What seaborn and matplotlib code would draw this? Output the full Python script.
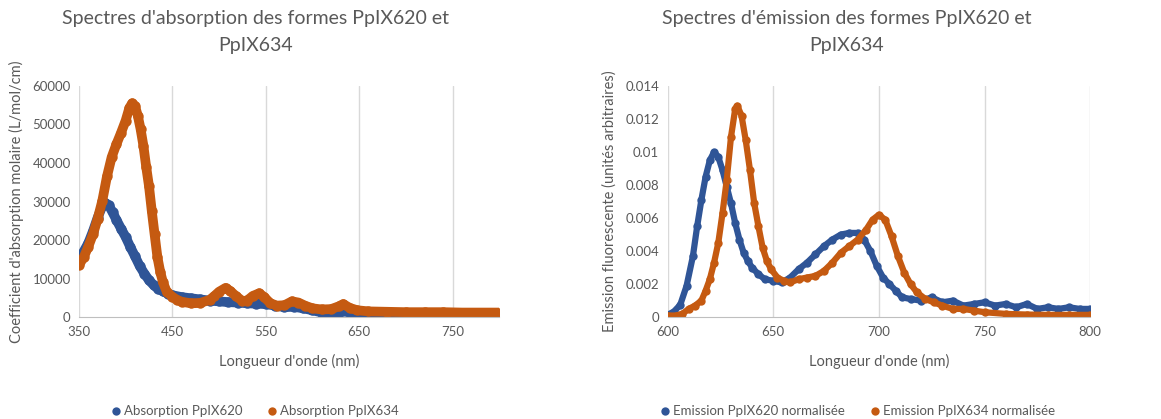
import numpy as np
import pandas as pd
import matplotlib
matplotlib.use("Agg")
import matplotlib.pyplot as plt
from matplotlib.ticker import FuncFormatter
import seaborn as sns

# ===========================
# DATA
# ===========================

abs_wl_620 = [350, 355, 360, 365, 370, 375, 378, 382, 386, 390, 395, 400, 405, 410, 415,
              420, 425, 430, 435, 440, 445, 450, 460, 470, 480, 490, 500, 510, 520, 530,
              540, 550, 560, 570, 580, 590, 600, 610, 620, 630, 635, 640, 650, 660, 680,
              700, 720, 740, 760, 780, 800]
abs_620 = [15200, 17000, 19200, 22300, 25800, 28800, 29700, 29000, 27200, 25300, 23000,
           20800, 18200, 15800, 13300, 11300, 9600, 8300, 7300, 6700, 6100, 5700, 5200,
           4900, 4600, 4300, 4100, 3900, 3800, 3600, 3500, 3400, 3000, 2600, 2700, 2300,
           1800, 1200, 1000, 1400, 1700, 1200, 900, 700, 600, 400, 400, 300, 400, 400, 500]

abs_wl_634 = [350, 355, 360, 365, 370, 375, 380, 385, 390, 395, 400, 404, 407, 410, 413,
              416, 419, 422, 425, 428, 431, 434, 437, 440, 444, 450, 455, 460, 470, 480,
              490, 495, 500, 507, 512, 518, 525, 530, 536, 543, 548, 555, 562, 570, 578,
              585, 592, 600, 610, 620, 628, 633, 640, 648, 660, 680, 700, 720, 740, 760,
              780, 800]
abs_634 = [13500, 15500, 18300, 21500, 25500, 30200, 36500, 41500, 44800, 47800, 51000,
           54300, 55500, 54800, 52300, 48800, 44500, 39000, 34000, 27500, 21500, 15600,
           11800, 9000, 6600, 5300, 4500, 4000, 3600, 3700, 4500, 5500, 6600, 7600, 6800,
           5500, 4200, 4300, 5500, 6200, 5300, 3600, 3000, 3100, 4100, 3800, 3000, 2300,
           2000, 2100, 2800, 3400, 2400, 1800, 1500, 1400, 1300, 1300, 1300, 1200, 1200, 1200]

em_wl_620 = [600, 603, 606, 609, 612, 614, 616, 618, 620, 622, 624, 626, 628, 630, 632,
             634, 636, 638, 640, 643, 646, 650, 654, 658, 662, 666, 670, 674, 678, 682,
             686, 690, 693, 696, 699, 702, 705, 708, 711, 715, 720, 725, 730, 735, 740,
             745, 750, 755, 760, 765, 770, 775, 780, 785, 790, 795, 800]
em_620 = [0.00014, 0.00034, 0.00075, 0.0019, 0.0037, 0.0055, 0.0071, 0.0085, 0.0095, 0.0100,
          0.0097, 0.0089, 0.0079, 0.0069, 0.0057, 0.0047, 0.0039, 0.0034, 0.0030, 0.0026,
          0.0023, 0.0022, 0.0021, 0.0024, 0.0029, 0.0033, 0.0038, 0.0043, 0.0047, 0.0050,
          0.0051, 0.0051, 0.0047, 0.0040, 0.0031, 0.0024, 0.0020, 0.0016, 0.0012, 0.0011,
          0.0010, 0.0012, 0.0009, 0.0010, 0.0007, 0.0008, 0.0009, 0.0007, 0.0008, 0.0006,
          0.0008, 0.0005, 0.0006, 0.0005, 0.0006, 0.0005, 0.0005]

em_wl_634 = [600, 604, 607, 610, 613, 616, 618, 620, 622, 624, 626, 628, 630, 632, 633,
             635, 637, 639, 641, 643, 645, 647, 649, 652, 655, 658, 662, 666, 670, 674,
             678, 682, 686, 690, 694, 697, 700, 703, 706, 709, 712, 715, 718, 722, 726,
             730, 735, 740, 745, 750, 760, 770, 780, 790, 800]
em_634 = [0.0001, 0.0001, 0.0002, 0.0005, 0.0007, 0.0010, 0.0016, 0.0023, 0.0033, 0.0045,
          0.0063, 0.0083, 0.0109, 0.0126, 0.0128, 0.0122, 0.0107, 0.0089, 0.0069, 0.0055,
          0.0042, 0.0034, 0.0029, 0.0024, 0.0022, 0.0021, 0.0023, 0.0024, 0.0025, 0.0028,
          0.0033, 0.0039, 0.0043, 0.0047, 0.0053, 0.0059, 0.0062, 0.0059, 0.0049, 0.0037,
          0.0027, 0.0020, 0.0015, 0.0011, 0.0009, 0.0007, 0.0005, 0.0005, 0.0004, 0.0003,
          0.0002, 0.00016, 0.00014, 0.00014, 0.00014]

BLUE = "#2F5597"
ORANGE = "#C55A11"
TEXT = "#595959"

sns.set_style("white")
plt.rcParams["font.family"] = ["Lato", "DejaVu Sans"]


def draw_panel(ax, series, xlim, xticks, ylim, yticks, ylabel, lw, ms, leg_x):
    for name, wl, vals, color in series:
        df = pd.DataFrame({"x": wl, "y": vals})
        sns.lineplot(data=df, x="x", y="y", ax=ax, color=color, linewidth=lw,
                     marker="o", markersize=ms, markeredgewidth=0, sort=False,
                     label=name, solid_capstyle="round", solid_joinstyle="round")
    ax.set_xlim(*xlim)
    ax.set_ylim(*ylim)
    ax.set_xticks(xticks)
    ax.set_yticks(yticks)
    ax.yaxis.set_major_formatter(FuncFormatter(lambda v, p: f"{v:g}"))
    ax.grid(axis="x", color="#D9D9D9", linewidth=1)
    ax.grid(axis="y", visible=False)
    for s in ["top", "right", "left"]:
        ax.spines[s].set_visible(False)
    ax.spines["bottom"].set_color("#BFBFBF")
    ax.tick_params(axis="both", colors=TEXT, labelsize=9.5, length=0, pad=6)
    ax.set_xlabel("Longueur d'onde (nm)", color=TEXT, fontsize=10.5, labelpad=12)
    ax.set_ylabel(ylabel, color=TEXT, fontsize=10.5, labelpad=6)
    ax.set_axisbelow(True)
    ax.legend(loc="upper center", bbox_to_anchor=(leg_x, -0.33), ncol=2, frameon=False,
              fontsize=9.5, labelcolor=TEXT, handlelength=0.6, handletextpad=0.3,
              columnspacing=2.0)
    for h in ax.get_legend().legend_handles:
        h.set_linewidth(0)
        h.set_markersize(6)


fig = plt.figure(figsize=(11.61, 4.19), dpi=100)
ax1 = fig.add_axes([0.068, 0.243, 0.362, 0.552])
ax2 = fig.add_axes([0.575, 0.243, 0.364, 0.552])

draw_panel(ax1,
           [("Absorption PpIX620", abs_wl_620, abs_620, BLUE),
            ("Absorption PpIX634", abs_wl_634, abs_634, ORANGE)],
           (350, 800), [350, 450, 550, 650, 750], (0, 60000),
           np.arange(0, 60001, 10000),
           "Coefficient d'absorption molaire (L/mol/cm)", 7.0, 7.5, 0.42)
draw_panel(ax2,
           [("Emission PpIX620 normalisée", em_wl_620, em_620, BLUE),
            ("Emission PpIX634 normalisée", em_wl_634, em_634, ORANGE)],
           (600, 800), [600, 650, 700, 750, 800], (0, 0.014),
           [0, 0.002, 0.004, 0.006, 0.008, 0.01, 0.012, 0.014],
           "Emission fluorescente (unités arbitraires)", 4.5, 6.0, 0.45)

fig.text(0.22, 0.975, "Spectres d'absorption des formes PpIX620 et\nPpIX634",
         ha="center", va="top", fontsize=14, color=TEXT, linespacing=1.65)
fig.text(0.729, 0.975, "Spectres d'émission des formes PpIX620 et\nPpIX634",
         ha="center", va="top", fontsize=14, color=TEXT, linespacing=1.65)

fig.savefig("out.png", dpi=100)
